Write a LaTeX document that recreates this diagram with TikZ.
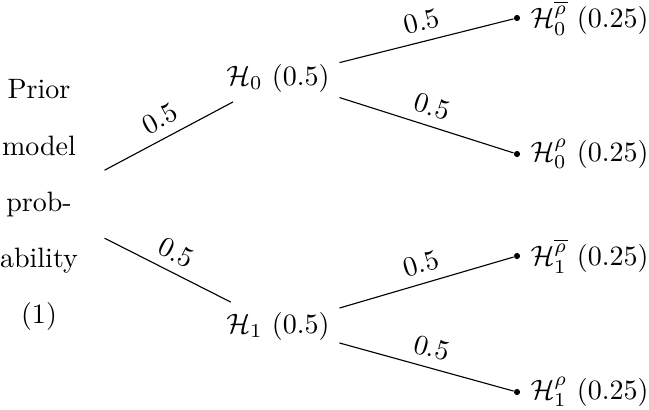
\documentclass[tikz,border=0pt]{standalone}
\usepackage{amsmath, amssymb}
\usetikzlibrary{positioning}

\begin{document}
\begin{tikzpicture}[x=0.01255cm, y=-0.01255cm,
    leaf/.style={circle, fill, inner sep=0pt, minimum size=2.2pt},
    prob/.style={midway, above, sloped}]
  \useasboundingbox (0,0) rectangle (649,409);
  % Racine (probabilite a priori)
  \node[align=center, minimum width=1.63cm] (prior) at (39,205)
    {Prior\\[8pt] model\\[8pt] prob-\\[8pt] ability\\[8pt] (1)};
  % Modeles
  \node (h0) at (278,78) {$\mathcal{H}_0$ (0.5)};
  \node (h1) at (278,326) {$\mathcal{H}_1$ (0.5)};
  % Feuilles (points)
  \node[leaf, label=right:{$\mathcal{H}_0^{\overline{\rho}}$ (0.25)}] (h0nr) at (517,18) {};
  \node[leaf, label=right:{$\mathcal{H}_0^{\rho}$ (0.25)}] (h0r) at (517,154) {};
  \node[leaf, label=right:{$\mathcal{H}_1^{\overline{\rho}}$ (0.25)}] (h1nr) at (517,256) {};
  \node[leaf, label=right:{$\mathcal{H}_1^{\rho}$ (0.25)}] (h1r) at (517,392) {};
  % Branches
  \draw (prior) -- node[prob]{0.5} (h0);
  \draw (prior) -- node[prob]{0.5} (h1);
  \draw (h0) -- node[prob]{0.5} (h0nr);
  \draw (h0) -- node[prob]{0.5} (h0r);
  \draw (h1) -- node[prob]{0.5} (h1nr);
  \draw (h1) -- node[prob]{0.5} (h1r);
\end{tikzpicture}
\end{document}
